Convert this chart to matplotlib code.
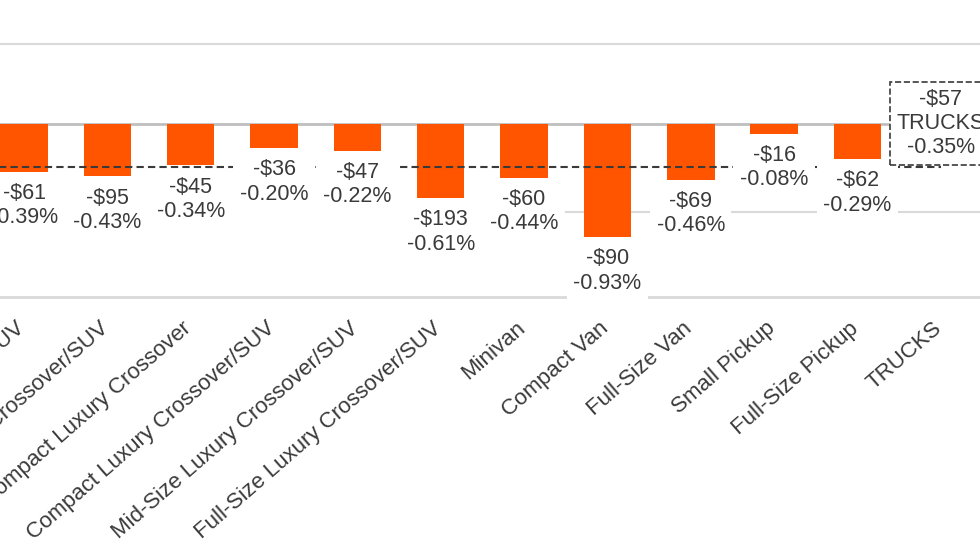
import matplotlib
matplotlib.use("Agg")
import matplotlib.pyplot as plt
import matplotlib.transforms as mtransforms

plt.rcParams['font.family'] = ['Liberation Sans', 'DejaVu Sans']

# segments (left side of the original chart is cut off)
categories = ["Mid-Size Crossover/SUV", "Full-Size Crossover/SUV",
              "Subcompact Luxury Crossover", "Compact Luxury Crossover/SUV",
              "Mid-Size Luxury Crossover/SUV", "Full-Size Luxury Crossover/SUV",
              "Minivan", "Compact Van", "Full-Size Van", "Small Pickup",
              "Full-Size Pickup", "TRUCKS"]
dollar_change = [-61, -95, -45, -36, -47, -193, -60, -90, -69, -16, -62]
pct_change = [-0.39, -0.43, -0.34, -0.20, -0.22, -0.61, -0.44, -0.93, -0.46, -0.08, -0.29]
trucks_dollar = -57
trucks_pct = -0.35

bar_color = '#FF5500'
text_color = '#3a3a3a'

fig = plt.figure(figsize=(9.8, 5.52), dpi=100)
ax = fig.add_axes([0, 1 - 297 / 552, 1, 297 / 552])
ax.set_xlim(-0.288, 11.47)
ax.set_ylim(-1.42, 1.018)

# grid lines
ax.axhline(0.66, color='#d9d9d9', lw=1.5, zorder=0)
ax.axhline(-0.72, xmin=0.575, color='#d9d9d9', lw=1.5, zorder=0)
ax.axhline(-1.42, color='#d9d9d9', lw=2, zorder=0, clip_on=False)
ax.axhline(0, color='#bfbfbf', lw=2, zorder=1)

xs = list(range(len(pct_change)))
ax.bar(xs, pct_change, width=0.57, color=bar_color, zorder=2)

# trucks average line
ti = categories.index("TRUCKS")
ax.plot([-0.5, ti], [trucks_pct, trucks_pct], color=text_color, lw=1.5,
        dashes=(3.5, 2), zorder=3)

for x, d, p in zip(xs, dollar_change, pct_change):
    ax.annotate("-$%d\n%.2f%%" % (abs(d), p), (x, p), xytext=(0, -8),
                textcoords='offset points', ha='center', va='top',
                fontsize=15.5, color=text_color, linespacing=1.2,
                bbox=dict(boxstyle='square,pad=0.3', fc='white', ec='none'),
                zorder=4)

ax.annotate("-$%d\nTRUCKS\n%.2f%%" % (abs(trucks_dollar), trucks_pct),
            (ti, trucks_pct), xytext=(0, 6), textcoords='offset points',
            ha='center', va='bottom', fontsize=15.5, color=text_color,
            linespacing=1.2,
            bbox=dict(boxstyle='square,pad=0.3', fc='white', ec=text_color,
                      ls='--', lw=1.2),
            zorder=5)

ax.set_xticks(range(len(categories)), categories, rotation=41,
              ha='right', va='top')
ax.tick_params(axis='x', length=0, pad=15, labelsize=16, labelcolor=text_color)
offset = mtransforms.ScaledTranslation(0.05, 0, fig.dpi_scale_trans)
for lbl in ax.get_xticklabels():
    lbl.set_transform(lbl.get_transform() + offset)

ax.set_yticks([])
for s in ax.spines.values():
    s.set_visible(False)

fig.savefig('out.png', dpi=100)
